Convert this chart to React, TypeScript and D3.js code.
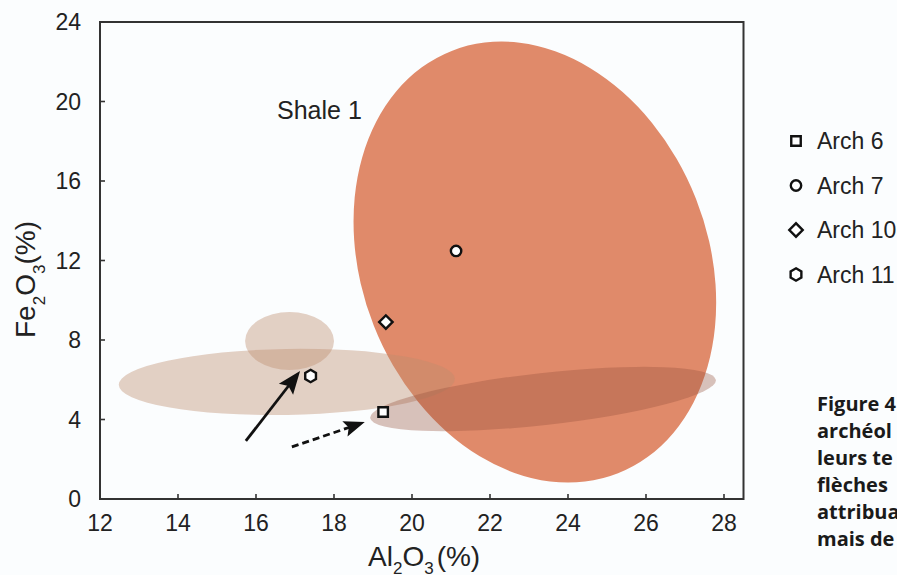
import React from "react";
import * as d3 from "d3";

// ---- data ----
const xTicks = [12, 14, 16, 18, 20, 22, 24, 26, 28];
const yTicks = [0, 4, 8, 12, 16, 20, 24];

const sampleNames = ["Arch 6", "Arch 7", "Arch 10", "Arch 11"];
const sampleAl = [19.26, 21.13, 19.33, 17.4];
const sampleFe = [4.38, 12.48, 8.9, 6.19];
const sampleShapes = ["square", "circle", "diamond", "hexagon"];

// compositional fields (confidence ellipses), data units
const fieldNames = ["Shale 1", "field A", "field B", "field C"];
const fieldCx = [23.15, 16.79, 16.86, 23.36];
const fieldCy = [11.92, 5.89, 7.95, 5.03];
const fieldRx = [4.44, 4.31, 1.14, 4.46];
const fieldRy = [11.42, 1.66, 1.46, 1.31];
const fieldAngle = [-21.5, -1, 0, -6.3];

// annotation arrows (tail -> tip), data units
const arrowFrom = [[15.74, 2.92], [16.92, 2.62]];
const arrowTo = [[17.13, 6.44], [18.79, 3.87]];
const arrowDashed = [false, true];

const captionLines = ["Figure 4", "archéol", "leurs te", "flèches", "attribua", "mais de"];

// ---- layout ----
const W = 897, H = 575;
const x = d3.scaleLinear().domain([12, 28]).range([100, 724]);
const y = d3.scaleLinear().domain([0, 24]).range([499, 22]);
const boxRight = x(28.5);
const font = "'Liberation Sans', Arial, sans-serif";

const fieldFill = ["#E08A6A", "rgb(190,140,110)", "rgb(190,140,110)", "rgb(150,80,60)"];
const fieldOpacity = [1, 0.4, 0.4, 0.35];

function hexPath(r: number) {
  const pts = d3.range(6).map((i) => {
    const a = (Math.PI / 3) * i - Math.PI / 2;
    return [r * Math.cos(a), r * Math.sin(a)] as [number, number];
  });
  return d3.line()(pts) + "Z";
}

function Marker({ shape, cx, cy }: { shape: string; cx: number; cy: number }) {
  const st = { fill: "#fff", stroke: "#111", strokeWidth: 2.4 };
  if (shape === "square")
    return <path d={d3.symbol(d3.symbolSquare, 90)()!} transform={`translate(${cx},${cy})`} {...st} />;
  if (shape === "circle")
    return <path d={d3.symbol(d3.symbolCircle, 85)()!} transform={`translate(${cx},${cy})`} {...st} />;
  if (shape === "diamond")
    return <path d={d3.symbol(d3.symbolSquare, 90)()!} transform={`translate(${cx},${cy}) rotate(45)`} {...st} />;
  return <path d={hexPath(6.2)} transform={`translate(${cx},${cy})`} {...st} />;
}

function Arrow({ from, to, dashed }: { from: number[]; to: number[]; dashed: boolean }) {
  const x1 = x(from[0]), y1 = y(from[1]), x2 = x(to[0]), y2 = y(to[1]);
  const dx = x2 - x1, dy = y2 - y1;
  const len = Math.hypot(dx, dy);
  const ux = dx / len, uy = dy / len;
  const hl = dashed ? 21 : 23, hw = dashed ? 8 : 9;
  const bx = x2 - ux * hl, by = y2 - uy * hl;
  const head = [
    [x2, y2],
    [bx - uy * hw, by + ux * hw],
    [bx + ux * 4, by + uy * 4],
    [bx + uy * hw, by - ux * hw],
  ] as [number, number][];
  return (
    <g>
      <line x1={x1} y1={y1} x2={bx + ux * 5} y2={by + uy * 5} stroke="#111" strokeWidth={2.8}
        strokeDasharray={dashed ? "7,4" : undefined} />
      <path d={d3.line()(head) + "Z"} fill="#111" />
    </g>
  );
}

export default function App() {
  const kx = x(1) - x(0);
  const ky = y(0) - y(1);
  return (
    <svg width={W} height={H} style={{ position: "absolute", left: 0, top: 0 }}>
      <rect width={W} height={H} fill="#fbfdfe" />
      {/* fields */}
      {fieldNames.map((n, i) => (
        <ellipse key={n} cx={x(fieldCx[i])} cy={y(fieldCy[i])} rx={fieldRx[i] * kx} ry={fieldRy[i] * ky}
          transform={`rotate(${fieldAngle[i]} ${x(fieldCx[i])} ${y(fieldCy[i])})`}
          fill={fieldFill[i]} fillOpacity={fieldOpacity[i]} />
      ))}
      <text x={277} y={y(19.1)} fontFamily={font} fontSize={25} fill="#222">{fieldNames[0]}</text>

      {/* arrows */}
      {arrowFrom.map((f, i) => <Arrow key={i} from={f} to={arrowTo[i]} dashed={arrowDashed[i]} />)}

      {/* points */}
      {sampleNames.map((n, i) => (
        <Marker key={n} shape={sampleShapes[i]} cx={x(sampleAl[i])} cy={y(sampleFe[i])} />
      ))}

      {/* frame */}
      <rect x={x(12)} y={y(24)} width={boxRight - x(12)} height={y(0) - y(24)} fill="none" stroke="#333" strokeWidth={2} />
      {xTicks.map((t) => (
        <g key={t}>
          <line x1={x(t)} x2={x(t)} y1={y(0)} y2={y(0) - 5} stroke="#333" strokeWidth={1.6} />
          <text x={x(t)} y={531} textAnchor="middle" fontFamily={font} fontSize={23} fill="#222">{t}</text>
        </g>
      ))}
      {yTicks.map((t) => (
        <g key={t}>
          <line x1={x(12)} x2={x(12) + 5} y1={y(t)} y2={y(t)} stroke="#333" strokeWidth={1.6} />
          <text x={81} y={y(t) + 8} textAnchor="end" fontFamily={font} fontSize={23} fill="#222">{t}</text>
        </g>
      ))}

      {/* axis titles */}
      <text x={368} y={566} fontFamily={font} fontSize={28} fill="#222">
        Al<tspan fontSize={17} dy={8}>2</tspan><tspan dy={-8}>O</tspan><tspan fontSize={17} dy={8}>3</tspan><tspan dy={-8} dx={3}>(%)</tspan>
      </text>
      <text transform="translate(35,338) rotate(-90)" fontFamily={font} fontSize={28} fill="#222">
        Fe<tspan fontSize={17} dy={10}>2</tspan><tspan dy={-10}>O</tspan><tspan fontSize={17} dy={10}>3</tspan><tspan dy={-10}>(%)</tspan>
      </text>

      {/* legend */}
      {sampleNames.map((n, i) => (
        <g key={n} transform={`translate(0,${141 + i * 44.5})`}>
          <Marker shape={sampleShapes[i]} cx={796} cy={0} />
          <text x={817} y={8} fontFamily={font} fontSize={23} fill="#222">{n}</text>
        </g>
      ))}

      {/* caption (cropped) */}
      {captionLines.map((l, i) => (
        <text key={i} x={817} y={411 + i * 27} fontFamily="'Open Sans', sans-serif" fontWeight="bold" fontSize={20} fill="#1a1a1a">{l}</text>
      ))}
    </svg>
  );
}
